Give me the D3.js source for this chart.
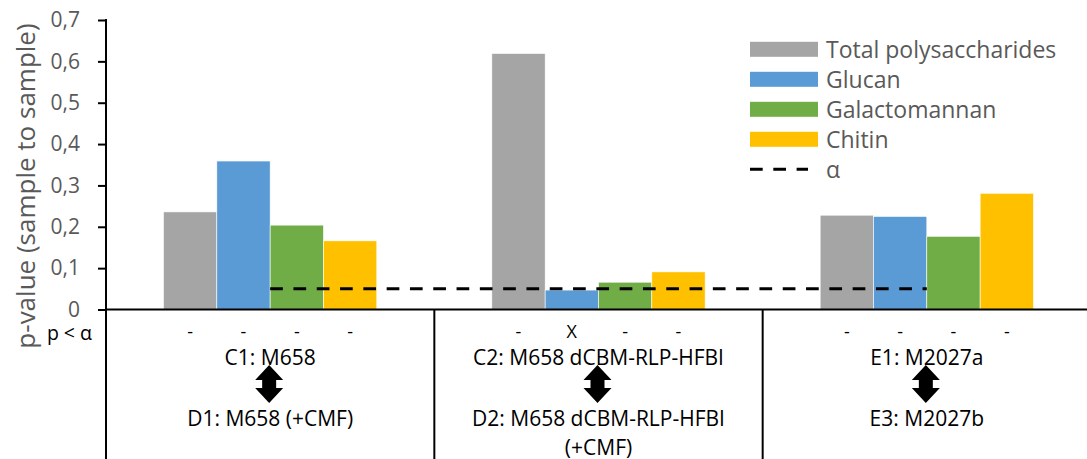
<!DOCTYPE html>
<html><head><meta charset="utf-8">
<script src="https://cdn.jsdelivr.net/npm/d3@7"></script>
<style>body{margin:0;background:#fff}svg{display:block}text{font-family:"Open Sans",sans-serif}</style>
</head><body><svg id="c" width="1087" height="459"></svg>
<script>
const groups = ["G1", "G2", "G3"];
const groupTop = ["C1: M658", "C2: M658 dCBM-RLP-HFBI", "E1: M2027a"];
const groupBottom = [["D1: M658 (+CMF)"], ["D2: M658 dCBM-RLP-HFBI", "(+CMF)"], ["E3: M2027b"]];
const series = ["Total polysaccharides", "Glucan", "Galactomannan", "Chitin"];
const colors = ["#A5A5A5", "#5B9BD5", "#70AD47", "#FFC000"];
const totalPoly = [0.236, 0.619, 0.228];
const glucan = [0.359, 0.047, 0.225];
const galacto = [0.204, 0.066, 0.177];
const chitin = [0.166, 0.091, 0.281];
const alphaValue = [0.05];
const sigMarks = [["-", "-", "-", "-"], ["-", "X", "-", "-"], ["-", "-", "-", "-"]];
const yTicks = [0, 0.1, 0.2, 0.3, 0.4, 0.5, 0.6, 0.7];
const values = [totalPoly, glucan, galacto, chitin];

const svg = d3.select("#c");
const y = d3.scaleLinear().domain([0, 0.7]).range([309.5, 20]);
const x0 = d3.scaleBand().domain(groups).range([106, 1091]);
const x1 = d3.scaleBand().domain(series).range([57.5, 270.8]);

// bars
series.forEach((s, si) => {
  svg.append("g").selectAll("rect").data(values[si]).join("rect")
    .attr("x", (d, gi) => x0(groups[gi]) + x1(s))
    .attr("y", d => y(d))
    .attr("width", x1.bandwidth())
    .attr("height", d => y(0) - y(d))
    .attr("fill", colors[si])
    .attr("stroke", "#fff").attr("stroke-width", 0.6);
});

// alpha line
svg.append("line")
  .attr("x1", x0(groups[0]) + x1(series[2]))
  .attr("x2", x0(groups[2]) + x1(series[1]) + x1.bandwidth())
  .attr("y1", y(alphaValue[0])).attr("y2", y(alphaValue[0]))
  .attr("stroke", "#000").attr("stroke-width", 3).attr("stroke-dasharray", "12.7,10.6");

// y axis
const yAxis = d3.axisLeft(y).tickValues(yTicks).tickSize(8).tickPadding(18)
  .tickFormat(d => d === 0 ? "0" : d3.format(".1f")(d).replace(".", ","));
const ga = svg.append("g").attr("transform", "translate(106,0)").call(yAxis);
ga.select(".domain").remove();
ga.selectAll(".tick line").attr("stroke", "#000").attr("stroke-width", 2);
ga.selectAll(".tick text").attr("fill", "#595959").attr("font-size", 21);

// axis lines
svg.append("line").attr("x1", 106).attr("x2", 106).attr("y1", 19).attr("y2", 459).attr("stroke", "#000").attr("stroke-width", 2);
svg.append("line").attr("x1", 106).attr("x2", 1087).attr("y1", y(0)).attr("y2", y(0)).attr("stroke", "#000").attr("stroke-width", 2);
groups.slice(1).forEach(g => {
  svg.append("line").attr("x1", x0(g)).attr("x2", x0(g)).attr("y1", y(0)).attr("y2", 459).attr("stroke", "#000").attr("stroke-width", 2);
});

// y title
svg.append("text").attr("transform", "translate(35,186) rotate(-90)")
  .attr("text-anchor", "middle").attr("fill", "#595959").attr("font-size", 26)
  .text("p-value (sample to sample)");

// p < alpha row
svg.append("text").attr("x", 92).attr("y", 332).attr("text-anchor", "end").attr("dominant-baseline", "central")
  .attr("font-size", 19.5).attr("fill", "#000").text("p < α");
groups.forEach((g, gi) => {
  series.forEach((s, si) => {
    svg.append("text").attr("x", x0(g) + x1(s) + x1.bandwidth() / 2).attr("y", 331)
      .attr("text-anchor", "middle").attr("dominant-baseline", "central")
      .attr("font-size", 18).attr("fill", "#000").text(sigMarks[gi][si]);
  });
  const cx = x0(g) + x0.bandwidth() / 2;
  svg.append("text").attr("x", cx).attr("y", 357).attr("text-anchor", "middle").attr("dominant-baseline", "central")
    .attr("font-size", 21).attr("fill", "#000").text(groupTop[gi]);
  groupBottom[gi].forEach((t, li) => {
    svg.append("text").attr("x", cx).attr("y", 418 + li * 29).attr("text-anchor", "middle").attr("dominant-baseline", "central")
      .attr("font-size", 21).attr("fill", "#000").text(t);
  });
  // double arrow
  const ax = cx - 1, top = 365, bot = 403, hw = 14, sw = 7, hh = 15;
  svg.append("path").attr("fill", "#000")
    .attr("d", `M${ax},${top} L${ax + hw},${top + hh} L${ax + sw},${top + hh} L${ax + sw},${bot - hh} L${ax + hw},${bot - hh} L${ax},${bot} L${ax - hw},${bot - hh} L${ax - sw},${bot - hh} L${ax - sw},${top + hh} L${ax - hw},${top + hh} Z`);
});

// legend
const lg = svg.append("g");
series.forEach((s, i) => {
  const cy = 49.3 + i * 30;
  lg.append("rect").attr("x", 750).attr("y", cy - 7.5).attr("width", 68).attr("height", 15).attr("fill", colors[i]);
  lg.append("text").attr("x", 826).attr("y", cy).attr("dominant-baseline", "central").attr("font-size", 23).attr("fill", "#595959").text(s);
});
const acy = 49.3 + 4 * 30;
lg.append("line").attr("x1", 750).attr("x2", 808).attr("y1", acy).attr("y2", acy)
  .attr("stroke", "#000").attr("stroke-width", 3).attr("stroke-dasharray", "12.7,10.6");
lg.append("text").attr("x", 826).attr("y", acy).attr("dominant-baseline", "central").attr("font-size", 23).attr("fill", "#595959").text("α");
</script></body></html>
